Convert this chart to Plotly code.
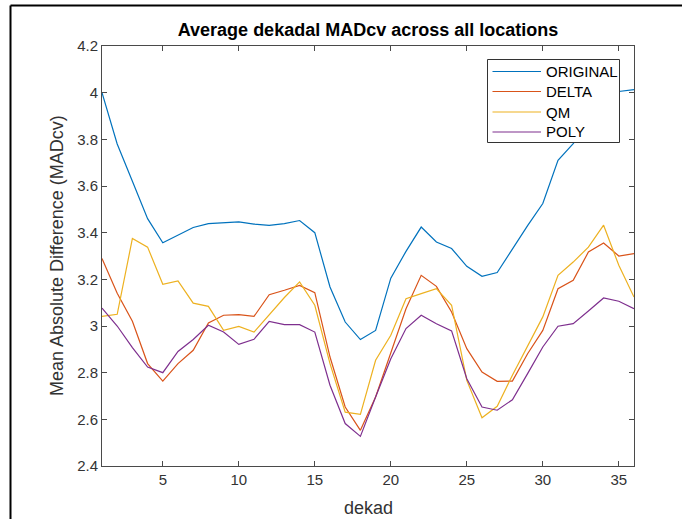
import plotly.graph_objects as go

# Dekad index (1..36) and average MADcv per method
dekad = list(range(1, 37))

original = [4.00, 3.78, 3.62, 3.46, 3.357, 3.389, 3.422, 3.439, 3.441, 3.446,
            3.437, 3.431, 3.439, 3.452, 3.40, 3.167, 3.017, 2.942, 2.981, 3.205,
            3.32, 3.424, 3.36, 3.332, 3.256, 3.213, 3.229, 3.33, 3.43, 3.525,
            3.71, 3.782, 3.87, 3.95, 4.005, 4.013]

delta = [3.289, 3.14, 3.02, 2.839, 2.764, 2.839, 2.896, 3.013, 3.046, 3.049,
         3.041, 3.134, 3.153, 3.174, 3.143, 2.867, 2.653, 2.553, 2.696, 2.889,
         3.074, 3.217, 3.170, 3.06, 2.903, 2.803, 2.763, 2.764, 2.881, 2.981,
         3.16, 3.196, 3.317, 3.356, 3.30, 3.31]

qm = [3.041, 3.05, 3.375, 3.338, 3.179, 3.193, 3.098, 3.084, 2.981, 2.998,
      2.974, 3.046, 3.122, 3.189, 3.089, 2.839, 2.631, 2.621, 2.853, 2.96,
      3.117, 3.139, 3.16, 3.089, 2.767, 2.607, 2.656, 2.789, 2.917, 3.039,
      3.217, 3.274, 3.338, 3.432, 3.26, 3.124]

poly = [3.077, 3.0, 2.907, 2.824, 2.80, 2.891, 2.942, 3.003, 2.974, 2.921,
        2.943, 3.02, 3.006, 3.006, 2.974, 2.746, 2.582, 2.527, 2.696, 2.86,
        2.989, 3.046, 3.01, 2.979, 2.774, 2.653, 2.639, 2.684, 2.796, 2.91,
        2.999, 3.01, 3.064, 3.12, 3.106, 3.074]

series_names = ["ORIGINAL", "DELTA", "QM", "POLY"]
series_values = [original, delta, qm, poly]
colors = ["#0072BD", "#D95319", "#EDB120", "#7E2F8E"]

x_ticks = [5, 10, 15, 20, 25, 30, 35]
y_ticks = [2.4, 2.6, 2.8, 3.0, 3.2, 3.4, 3.6, 3.8, 4.0, 4.2]
y_tick_text = ["2.4", "2.6", "2.8", "3", "3.2", "3.4", "3.6", "3.8", "4", "4.2"]

FONT = "Liberation Sans, Arial, Helvetica, sans-serif"
AXIS_COLOR = "#4a4a4a"
TEXT_COLOR = "#333333"

W, H = 690, 519
ML, MR, MT, MB = 102, 56, 46, 53
PW, PH = W - ML - MR, H - MT - MB


def px(x):
    """Pixel column -> paper x."""
    return (x - ML) / PW


def py(y):
    """Pixel row -> paper y."""
    return 1 - (y - MT) / PH


fig = go.Figure()
for name, vals, col in zip(series_names, series_values, colors):
    fig.add_trace(go.Scatter(
        x=dekad, y=vals, mode="lines", name=name,
        line=dict(color=col, width=1.2), showlegend=False,
    ))

axis_common = dict(
    showline=True, linecolor=AXIS_COLOR, linewidth=1,
    mirror="allticks", ticks="inside", ticklen=5, tickcolor=AXIS_COLOR,
    showgrid=False, zeroline=False,
    tickfont=dict(family=FONT, size=15, color=TEXT_COLOR),
)

fig.update_layout(
    width=W, height=H,
    margin=dict(l=ML, r=MR, t=MT, b=MB),
    paper_bgcolor="white", plot_bgcolor="white",
    title=dict(
        text="<b>Average dekadal MADcv across all locations</b>",
        font=dict(family=FONT, size=18, color="black"),
        x=0.5, xref="paper", xanchor="center",
        y=1 - 30 / H, yref="container", yanchor="middle",
    ),
    xaxis=dict(range=[1, 36], tickvals=x_ticks, **axis_common),
    yaxis=dict(range=[2.4, 4.2], tickvals=y_ticks, ticktext=y_tick_text,
               **axis_common),
    showlegend=False,
)

# Axis titles
fig.add_annotation(
    text="dekad", xref="paper", yref="paper", x=0.5, y=py(508),
    yanchor="middle", showarrow=False,
    font=dict(family=FONT, size=18, color=TEXT_COLOR),
)
fig.add_annotation(
    text="Mean Absolute Difference (MADcv)", xref="paper", yref="paper",
    x=px(57), y=0.5, xanchor="center", yanchor="middle",
    textangle=-90, showarrow=False,
    font=dict(family=FONT, size=18, color=TEXT_COLOR),
)

# Legend box with line samples and labels
LEG_L, LEG_R, LEG_T, LEG_B = 487.5, 619.5, 59.5, 142.5
fig.add_shape(type="rect", xref="paper", yref="paper", layer="above",
              x0=px(LEG_L), x1=px(LEG_R), y0=py(LEG_T), y1=py(LEG_B),
              fillcolor="white", line=dict(color="#333333", width=1))
row_y = [71.5, 91.5, 112, 132]
for name, col, ry in zip(series_names, colors, row_y):
    fig.add_shape(type="line", xref="paper", yref="paper", layer="above",
                  x0=px(492.5), x1=px(541), y0=py(ry), y1=py(ry),
                  line=dict(color=col, width=1.2))
    fig.add_annotation(
        text=name, xref="paper", yref="paper", x=px(543.5), y=py(ry),
        xanchor="left", yanchor="middle", showarrow=False,
        font=dict(family=FONT, size=15, color="black"),
    )

# Figure window frame (left and top edges)
fig.add_shape(type="line", xref="paper", yref="paper",
              x0=px(10.5), x1=px(10.5), y0=py(5.5), y1=py(560),
              line=dict(color="black", width=2))
fig.add_shape(type="line", xref="paper", yref="paper",
              x0=px(10.5), x1=px(682), y0=py(5.5), y1=py(5.5),
              line=dict(color="black", width=2))

fig.write_html("out.html")
